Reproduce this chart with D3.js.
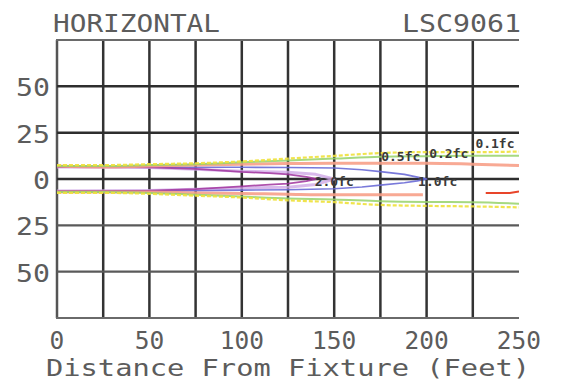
<!DOCTYPE html>
<html>
<head>
<meta charset="utf-8">
<script src="https://cdn.jsdelivr.net/npm/d3@7"></script>
<style>
  html, body { margin: 0; padding: 0; background: #fff; }
  svg { display: block; }
</style>
</head>
<body>
<script>
// ---------- data ----------
const xTicks = [0, 50, 100, 150, 200, 250];
const xGrid = [0, 25, 50, 75, 100, 125, 150, 175, 200, 225];
const yGridDark = [50, 25, 0];
const yGridLight = [-25, -50];
const yTickValues = [50, 25, 0, -25, -50];
const yTickLabels = ["50", "25", "0", "25", "50"];
const titleLeft = "HORIZONTAL";
const titleRight = "LSC9061";
const xTitle = "Distance From Fixture (Feet)";

// isolux contours (feet from fixture, feet lateral)
const fc01Upper = [[0,7.5],[25,7.5],[50,8],[75,8.5],[100,9.5],[125,11],[150,12.5],[175,14],[200,14.5],[225,14.5],[250,14.8]];
const fc01Lower = [[0,-7.5],[25,-7.5],[50,-8],[75,-9],[100,-10],[125,-11.5],[150,-12.5],[175,-14],[200,-14.5],[225,-14.8],[250,-15.3]];
const fc02Upper = [[0,7],[25,7],[50,7.5],[75,8],[100,9],[125,10],[150,11],[175,12],[200,12.3],[225,12.5],[250,12.5]];
const fc02Lower = [[0,-7],[25,-7],[50,-7.5],[75,-8.5],[100,-9.5],[125,-10.5],[150,-11],[175,-12],[200,-12.4],[225,-12.5],[250,-13.3]];
const fc05Upper = [[0,7],[25,6.5],[50,7],[75,7.5],[100,8],[125,8.3],[150,8.5],[175,8.5],[200,8.5],[225,8],[250,7.3]];
const fc05Lower = [[0,-7],[25,-7],[50,-7],[75,-7.5],[100,-7.8],[125,-8.2],[150,-8.5],[175,-8.5],[198,-8.5]];
const fc05Tail = [[232,-7.6],[245,-7.5],[250,-6.8]];
const fc10 = [[0,6.5],[25,6.5],[50,6.5],[75,6.3],[100,6.3],[125,6.2],[150,5.9],[165,5],[175,4],[188,2.5],[195,1],[200,0],
              [195,-1],[188,-2],[175,-3.3],[165,-4.3],[150,-5.3],[125,-5.8],[100,-6],[75,-6.3],[50,-6.5],[25,-6.5],[0,-6.5]];
const fcLav = [[0,6.5],[50,6.2],[75,5.3],[100,4.2],[125,3.6],[140,2.5],[150,0],
               [140,-3],[125,-4.5],[100,-4.8],[75,-5.5],[50,-6.2],[0,-6.5]];
const fc20 = [[0,6.5],[25,6.5],[50,6.3],[75,5.5],[100,3.8],[115,3.2],[125,2.5],[135,1.2],[140,0],
              [135,-1.2],[125,-2.5],[115,-3],[100,-4],[75,-5.5],[50,-6.3],[25,-6.5],[0,-6.5]];

const labelText = ["2.0fc", "1.0fc", "0.5fc", "0.2fc", "0.1fc"];
const labelX = [150, 206, 186, 212, 237];
const labelY = [-1.6, -1.6, 11.9, 14, 19.4];

// ---------- drawing ----------
const W = 561, H = 381;
const svg = d3.select("body").append("svg").attr("width", W).attr("height", H);
svg.append("rect").attr("width", W).attr("height", H).attr("fill", "#fff");

const x = d3.scaleLinear().domain([0, 250]).range([57, 519]);
const y = d3.scaleLinear().domain([-75, 75]).range([318, 40]);

const FONT = "'DejaVu Sans Mono', monospace";
const TXT = "#5c5c5c";

// grid
const g = svg.append("g");
g.selectAll("line.v").data(xGrid).join("line")
  .attr("x1", d => x(d)).attr("x2", d => x(d))
  .attr("y1", y(75)).attr("y2", y(-75))
  .attr("stroke", d => d === 0 ? "#555" : "#333").attr("stroke-width", 2.5);
g.selectAll("line.hd").data(yGridDark).join("line")
  .attr("x1", x(0)).attr("x2", x(250))
  .attr("y1", d => y(d)).attr("y2", d => y(d))
  .attr("stroke", "#2e2e2e").attr("stroke-width", 2.5);
g.selectAll("line.hl").data(yGridLight).join("line")
  .attr("x1", x(0)).attr("x2", x(250))
  .attr("y1", d => y(d)).attr("y2", d => y(d))
  .attr("stroke", "#5a5a5a").attr("stroke-width", 2.3);
g.selectAll("line.b").data([75, -75]).join("line")
  .attr("x1", x(0) - 1).attr("x2", x(250))
  .attr("y1", d => y(d)).attr("y2", d => y(d))
  .attr("stroke", "#6a6a6a").attr("stroke-width", 2.2);

// contours
svg.append("clipPath").attr("id", "clip").append("rect")
  .attr("x", x(0)).attr("y", y(75)).attr("width", x(250) - x(0)).attr("height", y(-75) - y(75));
const line = d3.line().x(d => x(d[0])).y(d => y(d[1])).curve(d3.curveMonotoneX);
const lineC = d3.line().x(d => x(d[0])).y(d => y(d[1])).curve(d3.curveLinear);
const cg = svg.append("g").attr("clip-path", "url(#clip)");
const series = [
  {d: fcLav, c: "#cfa8e6", w: 3, gen: lineC, op: 0.8},
  {d: fc10, c: "#6a6ad6", w: 1.6, gen: lineC, op: 0.9},
  {d: fc20, c: "#a0329e", w: 1.8, gen: lineC, op: 0.85},
  {d: fc05Upper, c: "#f7a088", w: 3, gen: line, op: 0.9},
  {d: fc05Lower, c: "#f7a088", w: 3, gen: line, op: 0.9},
  {d: fc05Tail, c: "#e8452a", w: 2, gen: lineC, op: 1},
  {d: fc02Upper, c: "#96d26a", w: 2, gen: line, op: 0.85},
  {d: fc02Lower, c: "#96d26a", w: 2, gen: line, op: 0.85},
  {d: fc01Upper, c: "#eee13a", w: 2.2, gen: line, op: 0.9, dash: "4,2"},
  {d: fc01Lower, c: "#eee13a", w: 2.2, gen: line, op: 0.9, dash: "4,2"}
];
cg.selectAll("path").data(series).join("path")
  .attr("d", s => s.gen(s.d))
  .attr("fill", "none")
  .attr("stroke", s => s.c)
  .attr("stroke-width", s => s.w)
  .attr("stroke-opacity", s => s.op)
  .attr("stroke-dasharray", s => s.dash || null)
  .attr("stroke-linejoin", "round");

// contour labels
svg.selectAll("text.lab").data(labelText).join("text")
  .attr("x", (d, i) => x(labelX[i]))
  .attr("y", (d, i) => y(labelY[i]))
  .attr("text-anchor", "middle")
  .attr("dominant-baseline", "central")
  .attr("font-family", FONT).attr("font-size", 13).attr("font-weight", "bold")
  .attr("fill", "#3a3a3a")
  .text(d => d);

// axis tick labels
svg.selectAll("text.xt").data(xTicks).join("text")
  .attr("x", d => x(d)).attr("y", 349)
  .attr("text-anchor", "middle")
  .attr("font-family", FONT).attr("font-size", 24.5).attr("fill", TXT)
  .text(d => d);
svg.selectAll("text.yt").data(yTickValues).join("text")
  .attr("x", 50).attr("y", d => y(d) + 10)
  .attr("text-anchor", "end")
  .attr("font-family", FONT).attr("font-size", 25).attr("fill", TXT)
  .attr("textLength", (d, i) => yTickLabels[i].length * 17)
  .attr("lengthAdjust", "spacingAndGlyphs")
  .text((d, i) => yTickLabels[i]);

// titles
svg.append("text").attr("x", 53).attr("y", 32)
  .attr("font-family", FONT).attr("font-size", 25).attr("fill", TXT)
  .attr("textLength", 167).attr("lengthAdjust", "spacingAndGlyphs")
  .text(titleLeft);
svg.append("text").attr("x", 402).attr("y", 32)
  .attr("font-family", FONT).attr("font-size", 25).attr("fill", TXT)
  .attr("textLength", 119).attr("lengthAdjust", "spacingAndGlyphs")
  .text(titleRight);
svg.append("text").attr("x", 46).attr("y", 376)
  .attr("font-family", FONT).attr("font-size", 22.5).attr("fill", TXT)
  .attr("textLength", 484).attr("lengthAdjust", "spacingAndGlyphs")
  .text(xTitle);
</script>
</body>
</html>
